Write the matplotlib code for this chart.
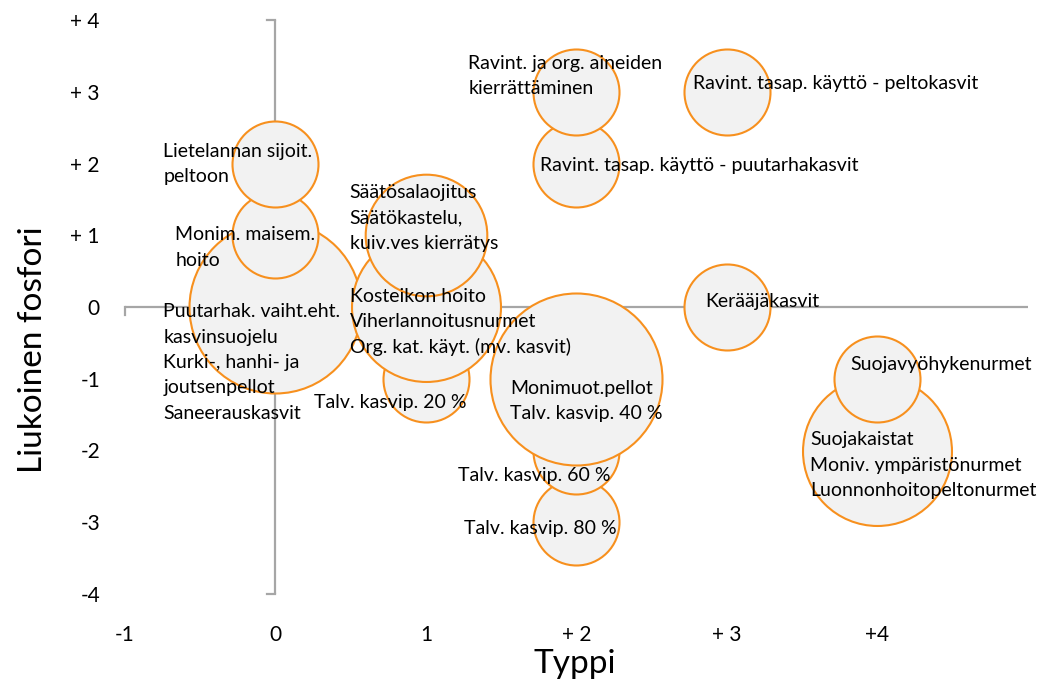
import matplotlib
matplotlib.use('Agg')
import matplotlib.pyplot as plt
import numpy as np

plt.rcParams['font.family'] = ['Lato', 'DejaVu Sans']

# measures placed by effect on nitrogen (x) and soluble phosphorus (y)
typpi = [0, 0, 0, 1, 1, 1, 2, 3, 2, 3, 2, 2, 2, 4, 4]
fosfori = [2, 1, 0, 1, 0, -1, 3, 3, 2, 0, -1, -2, -3, -1, -2]
koko = [1, 1, 4, 2, 3, 1, 1, 1, 1, 1, 4, 1, 1, 1, 3]
nimet = [
    "Lietelannan sijoit.\npeltoon",
    "Monim. maisem.\nhoito",
    "Puutarhak. vaiht.eht.\nkasvinsuojelu\nKurki-, hanhi- ja\njoutsenpellot\nSaneerauskasvit",
    "Säätösalaojitus\nSäätökastelu,\nkuiv.ves kierrätys",
    "Kosteikon hoito\nViherlannoitusnurmet\nOrg. kat. käyt. (mv. kasvit)",
    "Talv. kasvip. 20 %",
    "Ravint. ja org. aineiden\nkierrättäminen",
    "Ravint. tasap. käyttö - peltokasvit",
    "Ravint. tasap. käyttö - puutarhakasvit",
    "Kerääjäkasvit",
    "Monimuot.pellot\nTalv. kasvip. 40 %",
    "Talv. kasvip. 60 %",
    "Talv. kasvip. 80 %",
    "Suojavyöhykenurmet",
    "Suojakaistat\nMoniv. ympäristönurmet\nLuonnonhoitopeltonurmet",
]
x_ticks = [-1, 0, 1, 2, 3, 4]
x_ticklabels = ["-1", "0", "1", "+ 2", "+ 3", "+4"]
y_ticks = [4, 3, 2, 1, 0, -1, -2, -3, -4]
y_ticklabels = ["+ 4", "+ 3", "+ 2", "+ 1", "0", "-1", "-2", "-3", "-4"]

# label offsets (pixels) from bubble centre to the left edge / middle of the text
label_dx = [-112, -100, -112, -76, -76, -112, -108, -34, -36, -21, -66, -118, -112, -27, -67]
label_dy = [1, -11, -54, 19, -13, -22, 17, 10, 0, 7, -21, -23, -5, 16, -13]
line_step = 25.5  # pixels between label lines

fig = plt.figure(figsize=(10.45, 6.88), dpi=100)
ax = fig.add_axes([125/1045, 1 - 594/688, (1027.5 - 125)/1045, (594 - 20)/688])
ax.set_xlim(-1, 5)
ax.set_ylim(-4, 4)
for s in ax.spines.values():
    s.set_visible(False)

axis_col = '#a6a6a6'
ax.plot([-1, 5], [0, 0], color=axis_col, lw=1.6, zorder=1, clip_on=False, solid_capstyle='butt')
ax.plot([0, 0], [-4, 4], color=axis_col, lw=1.6, zorder=1, clip_on=False, solid_capstyle='butt')
# end ticks
ax.plot([-1, -1], [0, -0.11], color=axis_col, lw=1.6, zorder=1, clip_on=False)
ax.plot([-0.055, 0], [4, 4], color=axis_col, lw=1.6, zorder=1, clip_on=False)
ax.plot([-0.055, 0], [-4, -4], color=axis_col, lw=1.6, zorder=1, clip_on=False)

# bubble area proportional to number of measures; larger y drawn on top
r1 = 43 * 0.72  # radius of a single-measure bubble in points
order = np.argsort(fosfori, kind='stable')
for i in order:
    ax.scatter(typpi[i], fosfori[i], s=(2 * r1) ** 2 * koko[i], facecolor='#f2f2f2',
               edgecolor='#f7901e', linewidth=1.5, zorder=2, clip_on=False)

# each label line as its own text, stacked around the label centre
for i in range(len(nimet)):
    rivit = nimet[i].split("\n")
    n = len(rivit)
    for k, rivi in enumerate(rivit):
        dy = label_dy[i] - (k - (n - 1) / 2) * line_step
        ax.annotate(rivi, (typpi[i], fosfori[i]), xytext=(label_dx[i], dy),
                    textcoords='offset pixels', ha='left', va='center_baseline',
                    fontsize=14, color='black', zorder=5, annotation_clip=False)

ax.set_xticks(x_ticks)
ax.set_xticklabels(x_ticklabels, fontsize=15)
ax.set_yticks(y_ticks)
ax.set_yticklabels(y_ticklabels, fontsize=15)
ax.tick_params(axis='x', length=0, pad=22)
ax.tick_params(axis='y', length=0, pad=18)

fig.text(575/1045, 1 - 664/688, "Typpi", fontsize=24, ha='center', va='center')
fig.text(33/1045, 1 - 350/688, "Liukoinen fosfori", fontsize=24, rotation=90,
         ha='center', va='center')

fig.savefig('out.png', dpi=100)
